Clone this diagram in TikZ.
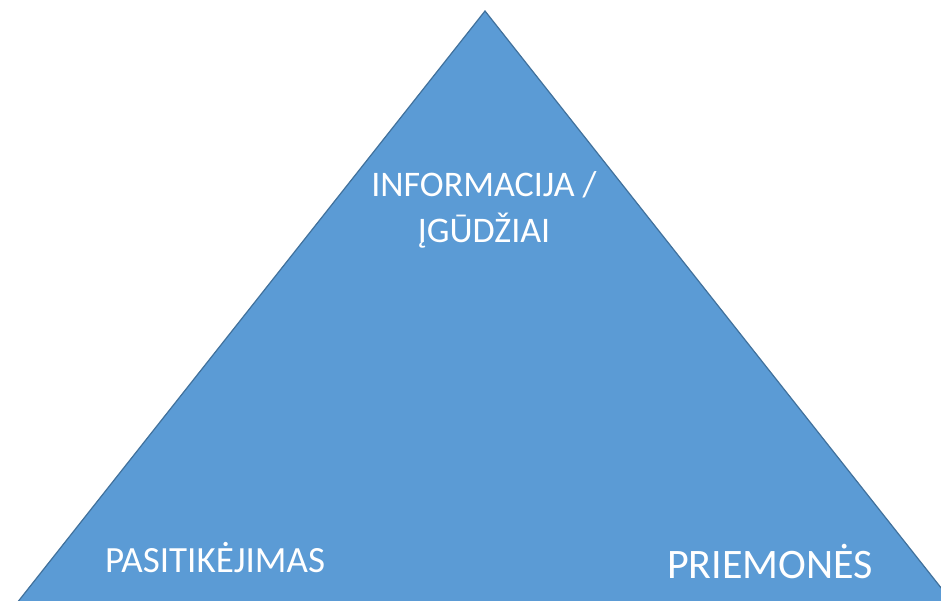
\documentclass[tikz,border=0pt]{standalone}
\usepackage{fontspec}
\setmainfont{Carlito}
\definecolor{triFill}{HTML}{5B9BD5}
\definecolor{triLine}{HTML}{41719C}
\begin{document}
\begin{tikzpicture}[x=1pt,y=-1pt,
  lbl/.style={text=white,inner sep=0pt,anchor=base,align=center}]
\useasboundingbox (0,0) rectangle (941,601);
\clip (0,0) rectangle (941,601);
\draw[fill=triFill,draw=triLine,line width=1.2pt] (485,11) coordinate (apex) -- (957,608) -- (13,608) -- cycle;
\node[lbl,font=\fontsize{36}{46}\selectfont] (info) at (484,243) {INFORMACIJA /\\ĮGŪDŽIAI};
\node[lbl,font=\fontsize{37}{40}\selectfont] (pas) at (215,572) {PASITIKĖJIMAS};
\node[lbl,font=\fontsize{42}{46}\selectfont] (prie) at (770,578) {PRIEMONĖS};
\end{tikzpicture}
\end{document}
